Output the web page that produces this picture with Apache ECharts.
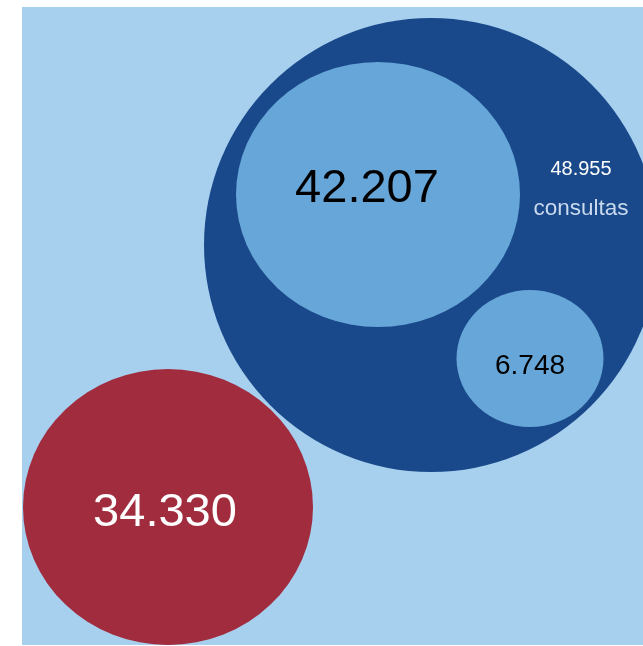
<!DOCTYPE html>
<html>
<head>
<meta charset="utf-8">
<script src="https://cdn.jsdelivr.net/npm/echarts@6/dist/echarts.min.js"></script>
<style>
html,body{margin:0;padding:0;background:#fff;}
#chart{width:643px;height:646px;}
</style>
</head>
<body>
<div id="chart"></div>
<script>
// Data
const names = ['Total consultas', 'Consultas grupo A', 'Consultas grupo B', 'Otros'];
const values = [48955, 42207, 6748, 34330];
const centerX = [431, 378, 530, 168];
const centerY = [245, 194.5, 358.5, 507];
const bubbleW = [454, 284, 147, 290];
const bubbleH = [454, 265, 137, 276];

function fmt(v) {
  return String(v).replace(/\B(?=(\d{3})+(?!\d))/g, '.');
}

const colors = ['#19498a', '#67a6d8', '#67a6d8', '#a02c3e'];
const labelStyles = [
  {
    position: 'inside',
    offset: [150, -56],
    formatter: p => '{a|' + fmt(p.value[2]) + '}\n{b|consultas}',
    rich: {
      a: { fontSize: 20, color: '#ffffff', lineHeight: 39, align: 'center', fontFamily: 'Liberation Sans' },
      b: { fontSize: 22.5, color: '#c9d9ee', lineHeight: 39, align: 'center', fontFamily: 'Liberation Sans' }
    }
  },
  { position: 'inside', fontSize: 47, color: '#000000', offset: [-11, -5] },
  { position: 'inside', fontSize: 28, color: '#000000', offset: [0, 8] },
  { position: 'inside', fontSize: 47, color: '#ffffff', offset: [-3, 6] }
];

const seriesData = values.map((v, i) => ({
  name: names[i],
  value: [centerX[i], centerY[i], v],
  symbolSize: [bubbleW[i], bubbleH[i]],
  itemStyle: { color: colors[i], opacity: 1 },
  label: Object.assign({
    show: true,
    fontFamily: 'Liberation Sans',
    formatter: p => fmt(p.value[2])
  }, labelStyles[i]),
  z2: i
}));

const chart = echarts.init(document.getElementById('chart'), null, { renderer: 'canvas' });
chart.setOption({
  animation: false,
  backgroundColor: '#ffffff',
  grid: {
    left: 22, top: 7, right: 0, bottom: 1,
    show: true, backgroundColor: '#a7cfee', borderWidth: 0
  },
  xAxis: { type: 'value', min: 22, max: 643, show: false },
  yAxis: { type: 'value', min: 7, max: 645, inverse: true, show: false },
  series: [{
    type: 'scatter',
    symbol: 'circle',
    clip: false,
    data: seriesData,
    emphasis: { disabled: true }
  }]
});
</script>
</body>
</html>
